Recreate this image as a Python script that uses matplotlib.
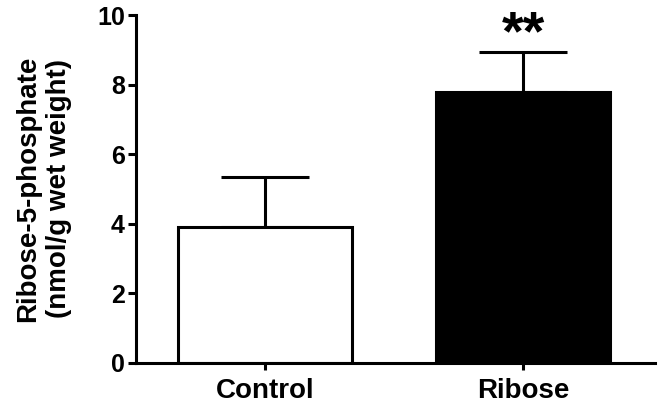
import matplotlib
matplotlib.use('Agg')
import matplotlib.pyplot as plt
import numpy as np

# Data
groups = ['Control', 'Ribose']
means = [3.9, 7.78]
errors = [1.45, 1.15]
colors = ['white', 'black']

plt.rcParams['font.family'] = ['Liberation Sans', 'DejaVu Sans']
plt.rcParams['font.weight'] = 'bold'

fig = plt.figure(figsize=(6.65, 4.11), dpi=100)
ax = fig.add_axes([0.2045, 0.1168, 0.7805, 0.8467])

x = np.arange(len(groups))
ax.bar(x, means, width=0.673, color=colors, edgecolor='black', linewidth=2.2, zorder=2)
ax.errorbar(x, means, yerr=[np.zeros(len(errors)), errors], fmt='none',
            ecolor='black', elinewidth=2.2, capsize=32, capthick=2.2, zorder=1)

# significance marker
ax.text(x[1], means[1] + errors[1] + 0.08, '**', ha='center', va='baseline',
        fontsize=40, fontweight='bold')

ax.set_xlim(-0.5, 1.51)
ax.set_ylim(0, 10)
ax.set_yticks([0, 2, 4, 6, 8, 10])
ax.set_xticks(x)
ax.set_xticklabels(groups)
ax.set_ylabel('Ribose-5-phosphate\n(nmol/g wet weight)', fontsize=20, fontweight='bold',
              labelpad=18, linespacing=1.25)

for s in ['top', 'right']:
    ax.spines[s].set_visible(False)
for s in ['left', 'bottom']:
    ax.spines[s].set_linewidth(2.2)
ax.tick_params(axis='y', width=2.2, length=6, labelsize=18, pad=2)
ax.tick_params(axis='x', width=2.2, length=5, labelsize=20, pad=6)

plt.savefig('out.png', dpi=100)
